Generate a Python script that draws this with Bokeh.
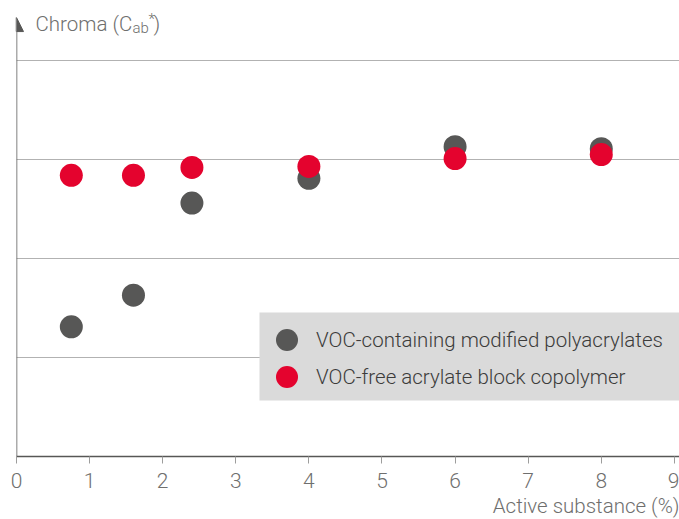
from bokeh.plotting import figure
from bokeh.models import (Range1d, Grid, FixedTicker, Legend, LegendItem, Label,
                          Arrow, NormalHead, BoxAnnotation, Title)
from bokeh.embed import file_html
from bokeh.resources import INLINE

# ---- data ----
voc_x = [0.75, 1.6, 2.4, 4.0, 6.0, 8.0]
voc_y = [1.31, 1.63, 2.56, 2.81, 3.13, 3.11]
free_x = [0.75, 1.6, 2.4, 4.0, 6.0, 8.0]
free_y = [2.84, 2.84, 2.92, 2.93, 3.01, 3.05]
x_ticks = [0, 1, 2, 3, 4, 5, 6, 7, 8, 9]
y_grid = [1, 2, 3, 4]
series_names = ["VOC-containing modified polyacrylates", "VOC-free acrylate block copolymer"]
x_label = "Active substance (%)"

FONT = "Roboto Light"
GRAY = "#575756"
RED = "#E4032E"
TXT = "#6F6F6E"

Y_END = 4.566      # top of plotting area
ARROW_END = 4.434  # tip of the y-axis arrow
p = figure(width=679, height=519, output_backend="svg", toolbar_location=None,
           x_range=Range1d(0, 9.07), y_range=Range1d(0, Y_END),
           y_axis_location=None, min_border_left=16, min_border_right=0,
           min_border_top=4, min_border_bottom=63)
p.outline_line_color = None
p.background_fill_color = "white"
p.xgrid.visible = False

grid = Grid(dimension=1, ticker=FixedTicker(ticks=y_grid),
            grid_line_color="#B2B2B2", grid_line_width=1)
p.add_layout(grid)

ax = p.xaxis[0]
ax.ticker = FixedTicker(ticks=x_ticks)
ax.axis_line_color = GRAY
ax.axis_line_width = 1.5
ax.major_tick_line_color = "#9D9D9C"
ax.major_tick_in = 0
ax.major_tick_out = 7
ax.minor_tick_line_color = None
ax.major_label_text_font = FONT
ax.major_label_text_font_size = "21px"
ax.major_label_text_color = TXT
ax.major_label_standoff = 9

p.add_layout(Title(text=x_label, align="right", offset=0, standoff=3,
                   text_font=FONT, text_font_size="20.5px", text_font_style="normal",
                   text_color=TXT), "below")

# y axis line with arrow
p.add_layout(Arrow(x_start=0, y_start=0, x_end=0, y_end=ARROW_END,
                   line_color=GRAY, line_width=1.5,
                   end=NormalHead(size=14, fill_color=GRAY, line_color=GRAY)))

r_voc = p.scatter(voc_x, voc_y, size=23, color=GRAY, line_color=None)
r_free = p.scatter(free_x, free_y, size=23, color=RED, line_color=None)

# legend background box
p.add_layout(BoxAnnotation(left=3.324, bottom=0.566, top=1.455,
                           fill_color="#DADADA", fill_alpha=1, line_color=None))

legend_style = dict(padding=0, spacing=0, glyph_width=55, glyph_height=55,
                    label_standoff=2, background_fill_alpha=0, border_line_color=None,
                    label_text_font=FONT, label_text_font_size="20.5px",
                    label_text_color="#3C3C3B")
leg1 = Legend(items=[LegendItem(label=series_names[0], renderers=[r_voc])],
              location=(243, 89), **legend_style)
leg2 = Legend(items=[LegendItem(label=series_names[1], renderers=[r_free])],
              location=(243, 52), **legend_style)
p.add_layout(leg1)
p.add_layout(leg2)

# title pieces
def lab(text, x, y, size, **kw):
    p.add_layout(Label(x=x, y=y, x_units="screen", y_units="screen", text=text,
                       text_font=FONT, text_font_size=size, text_color=TXT,
                       text_baseline="alphabetic", **kw))

lab("Chroma (C", 19, 433, "20.5px")
lab("ab", 116, 429, "15px")
lab("*", 132, 438, "15px")
lab(")", 137, 433, "20.5px")

open("out.html", "w").write(file_html(p, INLINE))
